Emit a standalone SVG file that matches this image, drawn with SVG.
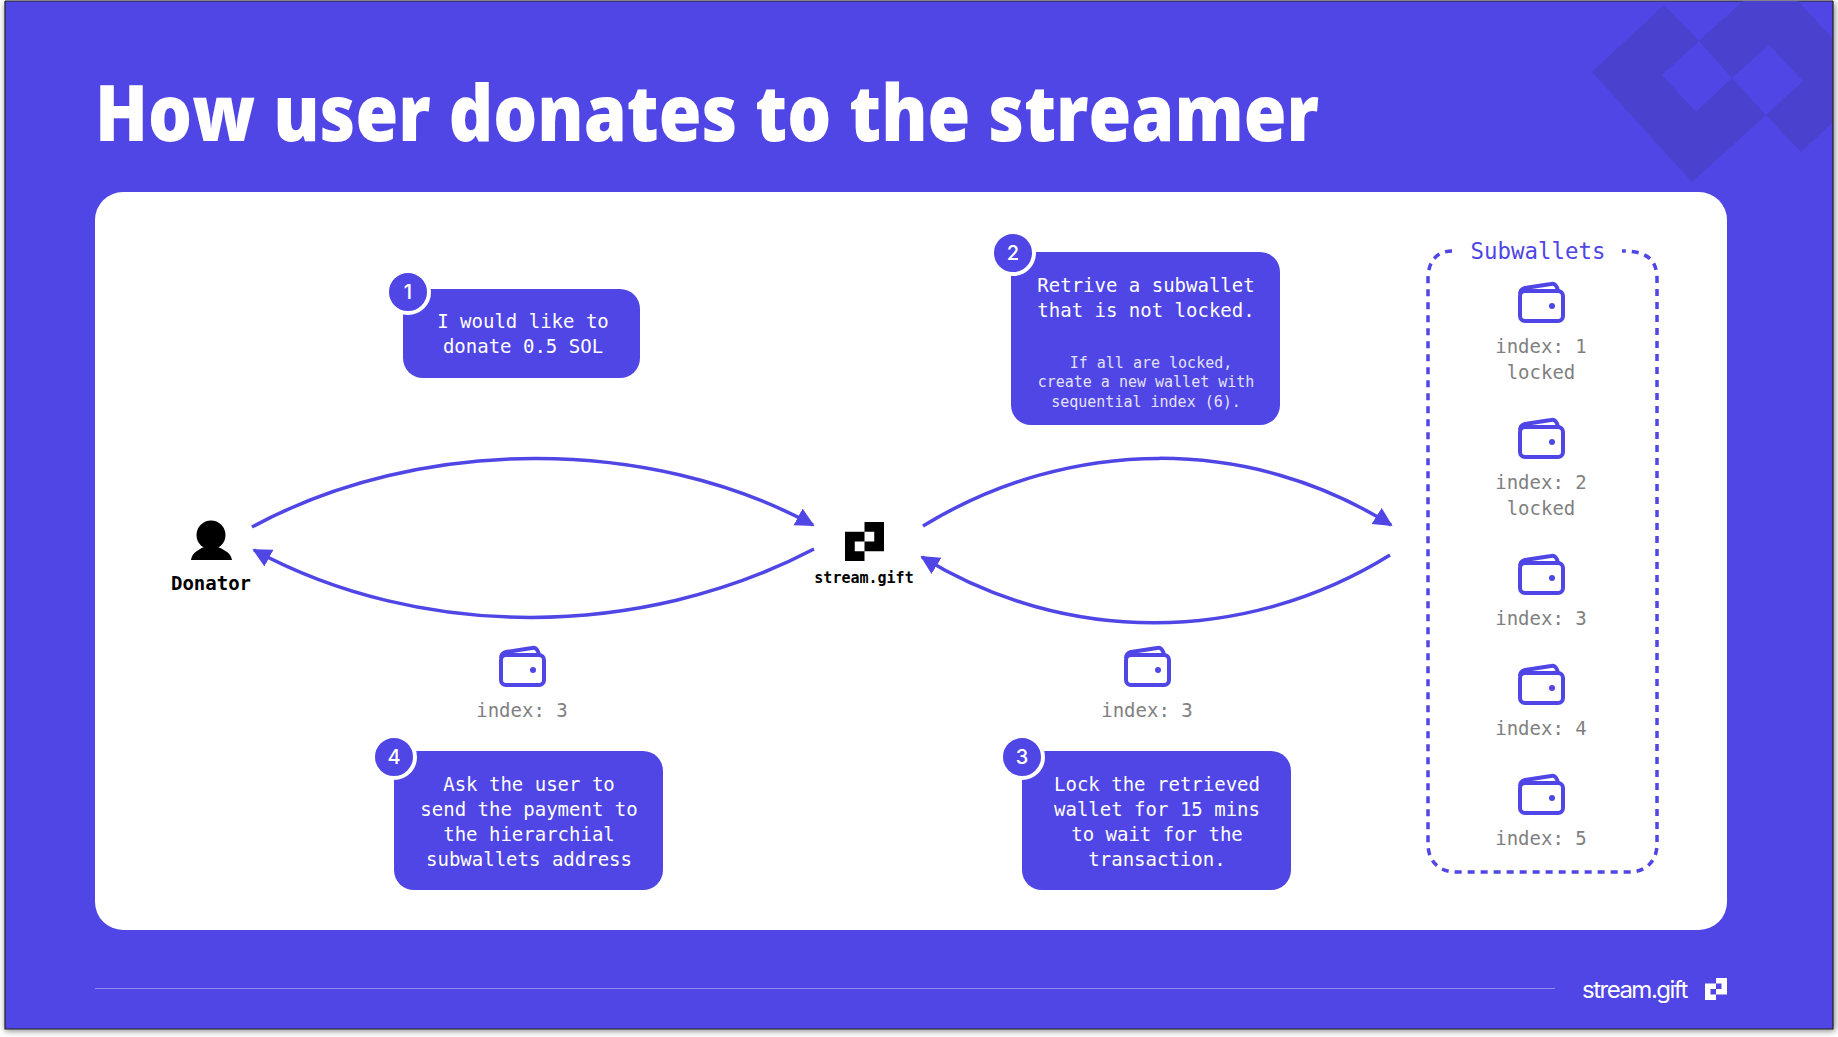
<svg xmlns="http://www.w3.org/2000/svg" width="1838" height="1037" viewBox="0 0 1838 1037">
<style>
.mono{font-family:"DejaVu Sans Mono","Liberation Mono",monospace;text-anchor:middle}
.w{fill:#fff;font-size:19px}
.s{fill:#e4e2fb;font-size:15px}
.g{fill:#808080;font-size:19px}
.box{fill:#4f46e5}
.badge{fill:#4f46e5;stroke:#fff;stroke-width:4}
.num{fill:#fff;font-family:"Inter","Liberation Sans",sans-serif;font-size:20px;font-weight:500;text-anchor:middle}
.arc{fill:none;stroke:#4f46e5;stroke-width:3.5}
</style>
<defs>
<filter id="sh" x="-2%" y="-2%" width="104%" height="104%"><feGaussianBlur stdDeviation="3"/></filter>
<marker id="ah" viewBox="0 0 10 10" refX="9" refY="5" markerWidth="5.4" markerHeight="5.8" orient="auto"><path d="M0 0L10 5L0 10Z" fill="#4f46e5"/></marker>
<symbol id="logo" viewBox="0 0 4 4"><path fill-rule="evenodd" d="M0 1H2V0H4V3H2V4H0ZM2 1V2H3V1ZM1 2V3H2V2Z"/></symbol>
<g id="wallet" fill="none" stroke="#4f46e5" stroke-width="4" stroke-linejoin="round">
<rect x="-21" y="-11" width="43" height="30" rx="5"/>
<path d="M-21 -8C-21 -12 -19 -13 -16 -14L10 -18C14 -19 16 -16 17 -11"/>
<circle cx="11" cy="4" r="3" fill="#4f46e5" stroke="none"/>
</g>
</defs>
<rect x="0" y="0" width="1838" height="1037" fill="#fff"/>
<rect x="5" y="3" width="1830" height="1028" fill="#888" filter="url(#sh)"/>
<rect x="5" y="1" width="1828" height="1028" fill="#4f46e5"/>
<path d="M5 1H1833M5 1V1029H1833V1" fill="none" stroke="#222" stroke-width="1.2"/>
<path id="bg-logo" fill="#4a41cf" fill-rule="evenodd" d="M1664 5L1699 41L1743 1H1798L1832 38V123L1801 152L1766 115L1692 182L1592 72ZM1699 41L1662 75L1696 112L1732 78ZM1769 45L1732 78L1766 115L1803 81Z"/>
<rect id="panel" x="95" y="192" width="1632" height="738" rx="28" fill="#fff"/>
<text id="title" x="95" y="141" font-family="Open Sans,Noto Sans,sans-serif" font-weight="800" font-size="78" fill="#fff" textLength="1224" lengthAdjust="spacingAndGlyphs">How user donates to the streamer</text>
<g id="connectors">
<path class="arc" marker-end="url(#ah)" d="M252 527C420 436 650 436 813 525"/>
<path class="arc" marker-end="url(#ah)" d="M814 549C640 640 420 640 254 550"/>
<path class="arc" marker-end="url(#ah)" d="M923 526C1070 436 1250 436 1391 525"/>
<path class="arc" marker-end="url(#ah)" d="M1390 555C1245 645 1065 645 922 557"/>
</g>
<g id="donator">
<circle cx="211" cy="535" r="14.5"/>
<path d="M191 560C192 552 200 549 206 546H216C222 549 231 552 232 560Z"/>
<text class="mono" x="211" y="590" font-size="19" font-weight="700">Donator</text>
</g>
<g id="streamgift">
<use href="#logo" x="845" y="522" width="39" height="39"/>
<text class="mono" x="864" y="583" font-size="15" font-weight="700">stream.gift</text>
</g>
<g id="step1">
<rect class="box" x="403" y="289" width="237" height="89" rx="20"/>
<circle class="badge" cx="408" cy="292" r="21"/>
<text class="num" x="408" y="299">1</text>
<text class="mono w" x="523" y="328">I would like to</text>
<text class="mono w" x="523" y="353">donate 0.5 SOL</text>
</g>
<g id="step2">
<rect class="box" x="1011" y="252" width="269" height="173" rx="20"/>
<circle class="badge" cx="1013" cy="253" r="21"/>
<text class="num" x="1013" y="260">2</text>
<text class="mono w" x="1146" y="292">Retrive a subwallet</text>
<text class="mono w" x="1146" y="317">that is not locked.</text>
<text class="mono s" x="1151" y="368">If all are locked,</text>
<text class="mono s" x="1146" y="387">create a new wallet with</text>
<text class="mono s" x="1146" y="407">sequential index (6).</text>
</g>
<g id="step3">
<rect class="box" x="1022" y="751" width="269" height="139" rx="20"/>
<circle class="badge" cx="1022" cy="757" r="21"/>
<text class="num" x="1022" y="764">3</text>
<text class="mono w" x="1157" y="791">Lock the retrieved</text>
<text class="mono w" x="1157" y="816">wallet for 15 mins</text>
<text class="mono w" x="1157" y="841">to wait for the</text>
<text class="mono w" x="1157" y="866">transaction.</text>
</g>
<g id="step4">
<rect class="box" x="394" y="751" width="269" height="139" rx="20"/>
<circle class="badge" cx="394" cy="757" r="21"/>
<text class="num" x="394" y="764">4</text>
<text class="mono w" x="529" y="791">Ask the user to</text>
<text class="mono w" x="529" y="816">send the payment to</text>
<text class="mono w" x="529" y="841">the hierarchial</text>
<text class="mono w" x="529" y="866">subwallets address</text>
</g>
<g id="wallet-left">
<use href="#wallet" x="522" y="666"/>
<text class="mono g" x="522" y="717">index: 3</text>
</g>
<g id="wallet-right">
<use href="#wallet" x="1147" y="666"/>
<text class="mono g" x="1147" y="717">index: 3</text>
</g>
<g id="subwallets">
<path fill="none" stroke="#4f46e5" stroke-width="3.5" stroke-dasharray="7 6" d="M1452 251C1440 251 1428 258 1428 279V844C1428 862 1440 872 1456 872H1629C1645 872 1657 862 1657 844V279C1657 258 1645 251 1622 251"/>
<text class="mono" x="1538" y="259" font-size="22.4" fill="#4f46e5">Subwallets</text>
<use href="#wallet" x="1541" y="302"/>
<text class="mono g" x="1541" y="353">index: 1</text>
<text class="mono g" x="1541" y="379">locked</text>
<use href="#wallet" x="1541" y="438"/>
<text class="mono g" x="1541" y="489">index: 2</text>
<text class="mono g" x="1541" y="515">locked</text>
<use href="#wallet" x="1541" y="574"/>
<text class="mono g" x="1541" y="625">index: 3</text>
<use href="#wallet" x="1541" y="684"/>
<text class="mono g" x="1541" y="735">index: 4</text>
<use href="#wallet" x="1541" y="794"/>
<text class="mono g" x="1541" y="845">index: 5</text>
</g>
<g id="footer">
<rect x="95" y="988" width="1460" height="1" fill="#8f89ef"/>
<text x="1582" y="998" font-family="Inter,Liberation Sans,sans-serif" font-size="24" letter-spacing="-1.5" fill="#fff">stream.gift</text>
<use href="#logo" x="1705" y="978" width="22" height="22" style="fill:#fff"/>
</g>
</svg>
